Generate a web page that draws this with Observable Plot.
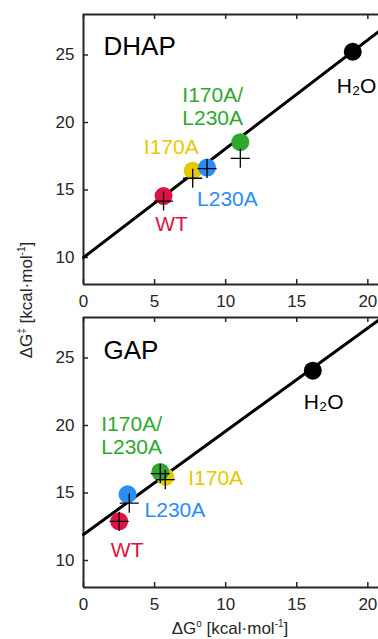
<!DOCTYPE html>
<html><head><meta charset="utf-8">
<script src="https://cdn.jsdelivr.net/npm/d3@7"></script>
<script src="https://cdn.jsdelivr.net/npm/@observablehq/plot@0.6"></script>
<style>
body{margin:0;background:#fff;font-family:"Liberation Sans",Arial,Helvetica,sans-serif;}
#wrap{position:relative;width:378px;height:639px;overflow:hidden;}
#top,#bot{position:absolute;left:0;}
#top{top:0}
#bot{top:303px}
.ylab{position:absolute;left:26px;top:300px;transform:translate(-50%,-50%) rotate(-90deg);font-size:17px;line-height:1;white-space:nowrap;color:#262626;}
.xlab{position:absolute;left:230px;top:628px;transform:translate(-50%,-50%);font-size:17px;line-height:1;white-space:nowrap;color:#262626;}
sup{font-size:10px;line-height:0;}
</style></head>
<body>
<div id="wrap">
  <div id="top"></div>
  <div id="bot"></div>
  <div class="ylab">ΔG<sup>‡</sup> [kcal·mol<sup>-1</sup>]</div>
  <div class="xlab">ΔG<sup>o</sup> [kcal·mol<sup>-1</sup>]</div>
</div>
<script>
// ---- data ----
const xTicks = [0, 5, 10, 15, 20];
const yTicks = [10, 15, 20, 25];

// DHAP panel
const dhapNames  = ["WT", "I170A", "L230A", "I170A/L230A", "H2O"];
const dhapLabels = ["WT", "I170A", "L230A", "I170A/\nL230A", "H₂O"];
const dhapDG0    = [5.63, 7.68, 8.69, 11.03, 18.94];
const dhapDGts   = [14.55, 16.43, 16.66, 18.54, 25.24];
const dhapCrossNames = ["WT", "I170A", "L230A", "I170A/L230A"];
const dhapCrossX = [5.63, 7.68, 8.69, 11.03];
const dhapCrossY = [14.18, 15.87, 16.59, 17.35];
const dhapLineX  = [0, 21];
const dhapLineY  = [10.0, 26.93];

// GAP panel
const gapNames  = ["WT", "L230A", "I170A", "I170A/L230A", "H2O"];
const gapLabels = ["WT", "L230A", "I170A", "I170A/\nL230A", "H₂O"];
const gapDG0    = [2.51, 3.10, 5.75, 5.40, 16.13];
const gapDGts   = [12.90, 14.90, 16.19, 16.56, 24.06];
const gapCrossNames = ["WT", "L230A", "I170A", "I170A/L230A"];
const gapCrossX = [2.51, 3.22, 5.75, 5.40];
const gapCrossY = [12.90, 14.25, 15.99, 16.44];
const gapLineX  = [0, 21];
const gapLineY  = [11.93, 27.99];

// ---- styles ----
const colorDomain = ["WT", "I170A", "L230A", "I170A/L230A", "H2O"];
const colorRange  = ["#DE1345", "#E6C800", "#2A8DF2", "#2EA82E", "#000000"];
const dhapOffsets = {
  "WT": {dx: 8, dy: 28, anchor: "middle"},
  "I170A": {dx: 6, dy: -24, anchor: "end"},
  "L230A": {dx: -10, dy: 31, anchor: "start"},
  "I170A/L230A": {dx: -58, dy: -36, anchor: "start"},
  "H2O": {dx: -16, dy: 34, anchor: "start"}
};
const gapOffsets = {
  "WT": {dx: 8, dy: 28, anchor: "middle"},
  "L230A": {dx: 17, dy: 15, anchor: "start"},
  "I170A": {dx: 23, dy: 1, anchor: "start"},
  "I170A/L230A": {dx: -59, dy: -37, anchor: "start"},
  "H2O": {dx: -9, dy: 31, anchor: "start"}
};
const FONT = '"Liberation Sans", Arial, Helvetica, sans-serif';
const INK = "#262626";

function panel(o) {
  const pts = o.names.map((n, i) => ({name: n, label: o.labels[i], x: o.dg0[i], y: o.dgts[i]}));
  const crosses = o.crossX.map((x, i) => ({name: o.crossNames[i], x, y: o.crossY[i]}));
  const line = o.lineX.map((x, i) => ({x, y: o.lineY[i]}));
  const W = 378, mL = 83, mT = 14, plotH = 270;
  const plotW = W - mL;
  const labelMarks = pts.map(p => {
    const off = o.offsets[p.name];
    return Plot.text([p], {
      x: "x", y: "y", text: "label", fill: "name",
      dx: off.dx, dy: off.dy, textAnchor: off.anchor, lineAnchor: "middle",
      fontSize: 21, lineHeight: 1.08
    });
  });
  return Plot.plot({
    width: W, height: o.height,
    marginLeft: mL, marginRight: 0, marginTop: mT, marginBottom: o.height - mT - plotH,
    x: {domain: [0, 20.75]},
    y: {domain: [8, 28]},
    color: {domain: colorDomain, range: colorRange},
    style: {fontFamily: FONT, fontSize: "17px", color: INK, background: "transparent", overflow: "visible"},
    marks: [
      Plot.axisX(xTicks, {tickSize: 0, tickPadding: 10, label: null, fontSize: 17}),
      Plot.axisY(yTicks, {tickSize: 0, tickPadding: 9, label: null, fontSize: 17}),
      Plot.tickX(xTicks, {x: d => d, insetTop: plotH - 5, stroke: INK, strokeWidth: 1.5}),
      Plot.tickX(xTicks, {x: d => d, insetBottom: plotH - 5, stroke: INK, strokeWidth: 1.5}),
      Plot.tickY(yTicks, {y: d => d, insetRight: plotW - 5, stroke: INK, strokeWidth: 1.5}),
      Plot.ruleY([8, 28], {stroke: INK, strokeWidth: 2}),
      Plot.ruleX([0], {stroke: INK, strokeWidth: 2}),
      Plot.line(line, {x: "x", y: "y", stroke: "black", strokeWidth: 3}),
      Plot.dot(pts, {x: "x", y: "y", r: 9, fill: "name", stroke: "none"}),
      Plot.dot(crosses, {x: "x", y: "y", symbol: "plus", r: 6.2, stroke: "black", fill: "none", strokeWidth: 1.3}),
      ...labelMarks,
      Plot.text([o.title], {text: d => d, frameAnchor: "top-left", dx: 20, dy: o.titleDy, lineAnchor: "middle", textAnchor: "start", fontSize: 26, fill: "black"})
    ]
  });
}

document.getElementById("top").append(panel({
  names: dhapNames, labels: dhapLabels, dg0: dhapDG0, dgts: dhapDGts,
  crossNames: dhapCrossNames, crossX: dhapCrossX, crossY: dhapCrossY,
  lineX: dhapLineX, lineY: dhapLineY, offsets: dhapOffsets,
  title: "DHAP", titleDy: 32, height: 316
}));
document.getElementById("bot").append(panel({
  names: gapNames, labels: gapLabels, dg0: gapDG0, dgts: gapDGts,
  crossNames: gapCrossNames, crossX: gapCrossX, crossY: gapCrossY,
  lineX: gapLineX, lineY: gapLineY, offsets: gapOffsets,
  title: "GAP", titleDy: 33, height: 336
}));
</script>
</body></html>
